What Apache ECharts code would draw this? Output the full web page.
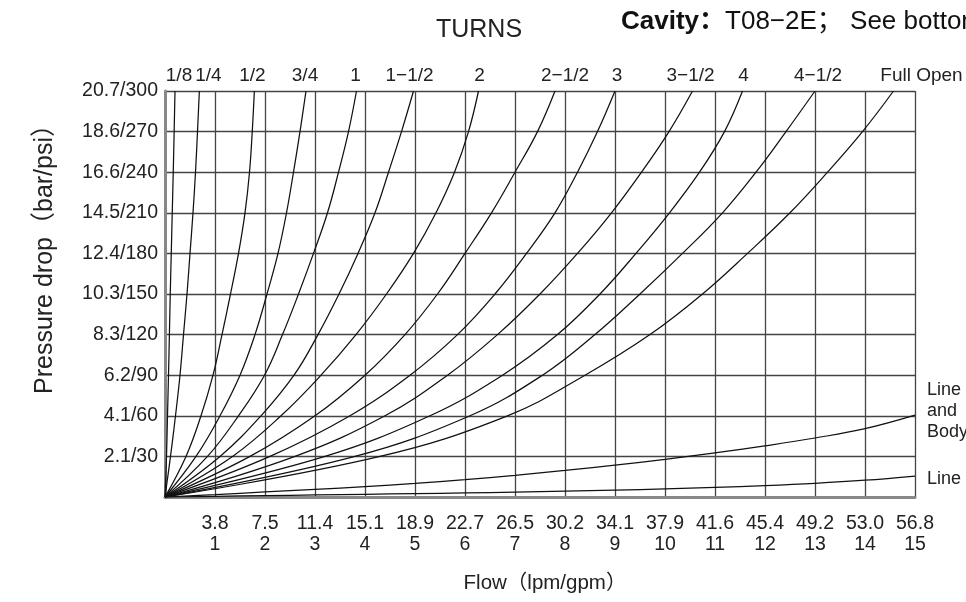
<!DOCTYPE html>
<html>
<head>
<meta charset="utf-8">
<script src="https://cdn.jsdelivr.net/npm/echarts@6/dist/echarts.min.js"></script>
<style>html,body{margin:0;padding:0;background:#fff;}#c{width:966px;height:602px;}</style>
</head>
<body>
<div id="c"></div>
<script>
// ---- data ----
const psiLevels = [0, 30, 60, 90, 120, 150, 180, 210, 240, 270, 300];
const turnNames = ['1/8', '1/4', '1/2', '3/4', '1', '1−1/2', '2', '2−1/2', '3', '3−1/2', '4', '4−1/2', 'Full Open'];
// flow (gpm) read at each pressure level, per turn setting
const flow_1_8   = [0, 0.03, 0.05, 0.07, 0.088, 0.105, 0.125, 0.145, 0.165, 0.183, 0.2];
const flow_1_4   = [0, 0.11, 0.21, 0.3, 0.37, 0.44, 0.5, 0.56, 0.61, 0.65, 0.687];
const flow_1_2   = [0, 0.42, 0.72, 0.96, 1.14, 1.31, 1.47, 1.6, 1.69, 1.745, 1.787];
const flow_3_4   = [0, 0.62, 1.1, 1.5, 1.8, 2.04, 2.26, 2.43, 2.57, 2.7, 2.82];
const flow_1     = [0, 0.85, 1.47, 1.99, 2.35, 2.67, 2.97, 3.25, 3.47, 3.67, 3.83];
const flow_1_1_2 = [0, 1.1, 1.92, 2.58, 3.06, 3.48, 3.86, 4.2, 4.47, 4.73, 4.97];
const flow_2     = [0, 1.35, 2.32, 3.12, 3.82, 4.43, 4.97, 5.42, 5.79, 6.07, 6.27];
const flow_2_1_2 = [0, 1.7, 3.0, 4.0, 4.8, 5.45, 6.0, 6.53, 7.0, 7.45, 7.8];
const flow_3     = [0, 2.1, 3.7, 4.9, 5.85, 6.6, 7.23, 7.8, 8.25, 8.65, 9.0];
const flow_3_1_2 = [0, 2.6, 4.4, 5.65, 6.65, 7.5, 8.25, 8.93, 9.53, 10.08, 10.55];
const flow_4     = [0, 3.2, 5.3, 6.75, 7.85, 8.7, 9.42, 10.09, 10.69, 11.19, 11.55];
const flow_4_1_2 = [0, 3.8, 6.1, 7.55, 8.6, 9.5, 10.35, 11.15, 11.82, 12.42, 13.0];
const flow_full  = [0, 4.3, 6.85, 8.4, 9.7, 10.75, 11.65, 12.5, 13.25, 13.95, 14.57];
const turnFlows = [flow_1_8, flow_1_4, flow_1_2, flow_3_4, flow_1, flow_1_1_2, flow_2, flow_2_1_2, flow_3, flow_3_1_2, flow_4, flow_4_1_2, flow_full];
const turnLabelShift = [4, 9, -2, -1, -1, -4, 1, 10, 2, -2, 1, 3, 28];

// line losses (psi) at each gpm 0..15
const flowGpm = [0, 1, 2, 3, 4, 5, 6, 7, 8, 9, 10, 11, 12, 13, 14, 15];
const lineBodyPsi = [0, 1.8, 3.7, 5.6, 7.7, 10, 12.8, 16, 19.6, 23.5, 27.8, 32.6, 37.8, 43.6, 50.5, 60.5];
const linePsi     = [0, 0.5, 1, 1.5, 2, 2.5, 3, 3.6, 4.3, 5.1, 6, 7.1, 8.4, 10.1, 12.4, 15.5];

// tick labels
const flowLpm = ['3.8', '7.5', '11.4', '15.1', '18.9', '22.7', '26.5', '30.2', '34.1', '37.9', '41.6', '45.4', '49.2', '53.0', '56.8'];
const pressureLabels = ['2.1/30', '4.1/60', '6.2/90', '8.3/120', '10.3/150', '12.4/180', '14.5/210', '16.6/240', '18.6/270', '20.7/300'];

// ---- chart ----
const FONT = "'Liberation Sans', Arial, 'Noto Sans CJK SC', sans-serif";
const chart = echarts.init(document.getElementById('c'), null, {renderer: 'canvas'});

const series = turnNames.map((name, k) => {
  const fl = turnFlows[k];
  return {
    name: name,
    type: 'line',
    smooth: 0.4,
    symbol: 'circle',
    symbolSize: 0,
    showSymbol: true,
    silent: true,
    animation: false,
    lineStyle: {color: '#111', width: 1.25},
    label: {show: false},
    data: fl.map((g, i) => {
      const item = {value: [g, psiLevels[i]]};
      if (i === fl.length - 1) {
        item.label = {
          show: true, position: 'top', distance: 6, formatter: name,
          offset: [turnLabelShift[k], 0],
          color: '#222', fontSize: 19, fontFamily: FONT
        };
      }
      return item;
    })
  };
});

function lossSeries(name, vals, labelText, dy) {
  return {
    name: name, type: 'line', smooth: 0.4, symbol: 'circle', symbolSize: 0, showSymbol: true,
    silent: true, animation: false,
    lineStyle: {color: '#111', width: 1.25},
    label: {show: false},
    data: vals.map((p, i) => {
      const item = {value: [flowGpm[i], p]};
      if (i === vals.length - 1) {
        item.label = {
          show: true, position: 'right', distance: 12, formatter: labelText,
          offset: [0, dy], lineHeight: 21, align: 'left',
          color: '#222', fontSize: 18, fontFamily: FONT
        };
      }
      return item;
    })
  };
}
series.push(lossSeries('Line and Body', lineBodyPsi, 'Line\nand\nBody', -4));
series.push(lossSeries('Line', linePsi, 'Line', 3));

chart.setOption({
  backgroundColor: '#fff',
  animation: false,
  grid: {left: 165, right: 51, top: 91, bottom: 105, containLabel: false},
  xAxis: {
    type: 'value', min: 0, max: 15, interval: 1,
    axisLine: {show: true, onZero: false, lineStyle: {color: '#888', width: 3}},
    axisTick: {show: false},
    splitLine: {show: true, lineStyle: {color: '#444', width: 1.3}},
    axisLabel: {
      margin: 16, lineHeight: 21, color: '#222', fontSize: 19.5, fontFamily: FONT,
      formatter: v => { const i = Math.round(v); return i === 0 ? '' : flowLpm[i - 1] + '\n' + i; }
    }
  },
  yAxis: {
    type: 'value', min: 0, max: 300, interval: 30,
    axisLine: {show: true, onZero: false, lineStyle: {color: '#888', width: 3}},
    axisTick: {show: false},
    splitLine: {show: true, lineStyle: {color: '#444', width: 1.3}},
    axisLabel: {
      margin: 7, color: '#222', fontSize: 19.5, fontFamily: FONT,
      formatter: v => { const i = Math.round(v / 30); return i === 0 ? '' : pressureLabels[i - 1]; }
    }
  },
  graphic: [
    {type: 'text', x: 479, y: 30, style: {text: 'TURNS', fill: '#222', font: "25px " + FONT, textAlign: 'center', textVerticalAlign: 'middle'}},
    {type: 'text', x: 621, y: 22, style: {
      text: '{b|Cavity：}{n|T08−2E； See bottom}', textAlign: 'left', textVerticalAlign: 'middle',
      rich: {b: {fontWeight: 'bold', fontSize: 26, fill: '#111', fontFamily: FONT}, n: {fontSize: 26, fill: '#111', fontFamily: FONT}}
    }},
    {type: 'text', x: 45, y: 253, rotation: Math.PI / 2, style: {text: 'Pressure drop（bar/psi）', fill: '#222', font: "25px " + FONT, textAlign: 'center', textVerticalAlign: 'middle'}},
    {type: 'text', x: 545, y: 583, style: {text: 'Flow（lpm/gpm）', fill: '#222', font: "20.5px " + FONT, textAlign: 'center', textVerticalAlign: 'middle'}}
  ],
  series: series
});
</script>
</body>
</html>
